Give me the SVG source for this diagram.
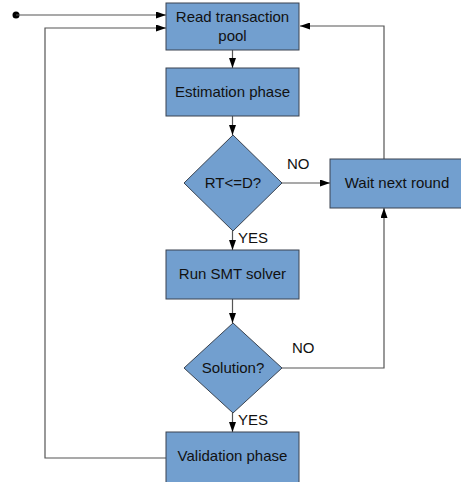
<svg xmlns="http://www.w3.org/2000/svg" width="461" height="482" viewBox="0 0 461 482">
<defs>
<marker id="ah" markerWidth="10" markerHeight="7" refX="10" refY="3.5" orient="auto" markerUnits="userSpaceOnUse">
<path d="M0,0 L10,3.5 L0,7 Z" fill="#000"/>
</marker>
<style>
.box{fill:#729fcf;stroke:#3a4350;stroke-width:1}
.t{font-family:"Liberation Sans",Arial,sans-serif;font-size:15px;fill:#111;text-anchor:middle}
.lbl{font-family:"Liberation Sans",Arial,sans-serif;font-size:15px;fill:#111}
.c{fill:none;stroke:#555;stroke-width:1.2}
</style>
</defs>
<g id="connectors">
<circle cx="16" cy="15" r="3.5" fill="#000"/>
<path class="c" d="M16,15 H166" marker-end="url(#ah)"/>
<path class="c" d="M166,458 H45 V28 H166" marker-end="url(#ah)"/>
<path class="c" d="M232.5,50 V68" marker-end="url(#ah)"/>
<path class="c" d="M232.5,116 V135" marker-end="url(#ah)"/>
<path class="c" d="M282,183 H330" marker-end="url(#ah)"/>
<path class="c" d="M232.5,231 V250" marker-end="url(#ah)"/>
<path class="c" d="M232.5,299 V323" marker-end="url(#ah)"/>
<path class="c" d="M232.5,413 V432" marker-end="url(#ah)"/>
<path class="c" d="M282,368 H384 V208" marker-end="url(#ah)"/>
<path class="c" d="M384,159 V26 H300" marker-end="url(#ah)"/>
<text class="lbl" x="287" y="169">NO</text>
<text class="lbl" x="238" y="243">YES</text>
<text class="lbl" x="292" y="353">NO</text>
<text class="lbl" x="238" y="425">YES</text>
</g>
<g id="read">
<rect class="box" x="166" y="3" width="133" height="47"/>
<text class="t" x="232.5" y="22">Read transaction</text>
<text class="t" x="232.5" y="41">pool</text>
</g>
<g id="estimation">
<rect class="box" x="166" y="68" width="133" height="48"/>
<text class="t" x="232.5" y="97">Estimation phase</text>
</g>
<g id="rtd">
<polygon class="box" points="233,135 282,183 233,231 184,183"/>
<text class="t" x="233" y="188">RT&lt;=D?</text>
</g>
<g id="wait">
<rect class="box" x="330" y="159" width="134" height="49"/>
<text class="t" x="397" y="188">Wait next round</text>
</g>
<g id="smt">
<rect class="box" x="166" y="250" width="133" height="49"/>
<text class="t" x="232.5" y="279">Run SMT solver</text>
</g>
<g id="solution">
<polygon class="box" points="233,323 282,368 233,413 184,368"/>
<text class="t" x="233" y="373">Solution?</text>
</g>
<g id="validation">
<rect class="box" x="166" y="432" width="133" height="52"/>
<text class="t" x="232.5" y="461">Validation phase</text>
</g>
</svg>
